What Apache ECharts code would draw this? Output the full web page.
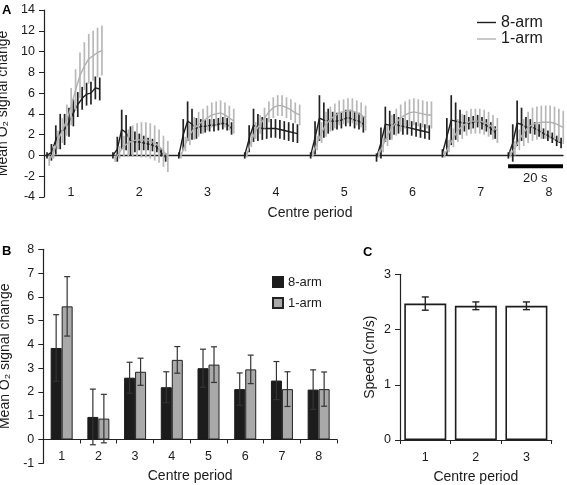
<!DOCTYPE html>
<html><head><meta charset="utf-8">
<script src="https://cdn.jsdelivr.net/npm/echarts@6/dist/echarts.min.js"></script>
<style>html,body{margin:0;padding:0;background:#fff}#c{width:567px;height:485px}</style>
</head><body><div id="c"></div>
<script>
// ---------- Panel A: time courses (13 samples per centre period) ----------
const periods = ['1','2','3','4','5','6','7','8'];
const yTicksA = [-4, 14, 2];           // min, max, interval
const arm8Mean = [
 [0, 0.3, 1.5, 2.3, 2.5, 3.2, 4.1, 4.9, 5.5, 5.9, 6.0, 6.5, 6.4],
 [0, 0.6, 2.5, 2.2, 1.4, 1.3, 1.3, 1.2, 1.1, 1.0, 0.8, 0.3, -0.2],
 [0, 2.0, 3.3, 3.0, 2.6, 2.8, 2.8, 2.9, 2.9, 3.0, 3.1, 3.0, 2.6],
 [0, 1.6, 2.9, 2.7, 2.6, 2.6, 2.6, 2.6, 2.5, 2.4, 2.3, 2.2, 2.1],
 [0, 1.7, 3.6, 3.4, 3.3, 3.3, 3.3, 3.4, 3.6, 3.6, 3.4, 3.3, 3.0],
 [-0.2, 1.2, 3.0, 2.9, 3.0, 2.9, 2.8, 2.7, 2.6, 2.5, 2.4, 2.3, 2.2],
 [0.2, 1.8, 3.4, 3.3, 3.2, 3.1, 3.1, 3.2, 3.3, 3.1, 2.9, 2.6, 2.2],
 [0, 1.2, 3.1, 3.0, 2.7, 2.8, 2.6, 2.4, 2.1, 1.9, 1.7, 1.4, 1.2]
];
const arm8Err = [
 [0.3, 0.8, 1.4, 1.7, 1.5, 1.4, 1.3, 1.2, 1.1, 1.1, 1.1, 1.1, 1.1],
 [0.3, 1.2, 1.9, 1.7, 1.4, 1.0, 0.8, 0.7, 0.6, 0.6, 0.5, 0.4, 0.4],
 [0.3, 1.5, 1.9, 1.5, 1.0, 0.7, 0.6, 0.6, 0.6, 0.6, 0.6, 0.6, 0.6],
 [0.3, 1.3, 1.6, 1.3, 1.1, 1.0, 0.9, 0.9, 0.9, 0.9, 0.9, 0.9, 0.9],
 [0.3, 1.6, 2.2, 1.7, 1.2, 0.9, 0.8, 0.8, 0.8, 0.8, 0.8, 0.8, 0.8],
 [0.4, 1.5, 1.7, 1.4, 1.0, 0.8, 0.8, 0.7, 0.7, 0.7, 0.7, 0.7, 0.7],
 [0.4, 1.8, 2.4, 1.8, 1.2, 0.8, 0.6, 0.6, 0.6, 0.6, 0.6, 0.6, 0.6],
 [0.3, 1.8, 2.2, 1.6, 1.0, 0.7, 0.6, 0.6, 0.5, 0.5, 0.5, 0.5, 0.5]
];
const arm1Mean = [
 [-0.5, 0.3, 1.5, 2.4, 3.4, 4.7, 6.3, 7.7, 8.6, 9.3, 9.6, 9.9, 10.1],
 [-0.3, 0.3, 0.9, 1.2, 1.4, 1.5, 1.5, 1.5, 1.4, 1.2, 0.9, 0.4, -0.1],
 [0, 1.1, 2.0, 2.6, 3.0, 3.3, 3.6, 3.9, 4.0, 4.1, 3.9, 3.6, 3.3],
 [0.1, 1.4, 2.4, 3.0, 3.6, 4.2, 4.6, 4.8, 4.8, 4.6, 4.4, 4.1, 3.9],
 [0.2, 1.2, 2.2, 3.0, 3.5, 3.8, 4.1, 4.2, 4.3, 4.3, 4.1, 3.9, 3.6],
 [0.1, 1.0, 1.9, 2.7, 3.2, 3.6, 3.9, 4.1, 4.2, 4.1, 4.0, 3.9, 3.9],
 [0.1, 0.9, 1.7, 2.4, 2.8, 3.1, 3.3, 3.3, 3.3, 3.2, 3.0, 2.7, 2.4],
 [0.1, 0.7, 1.5, 2.2, 2.7, 3.0, 3.1, 3.2, 3.2, 3.2, 3.1, 2.9, 2.7]
];
const arm1Err = [
 [0.5, 0.6, 0.9, 1.2, 1.5, 1.8, 2.0, 2.2, 2.3, 2.4, 2.4, 2.4, 2.4],
 [0.3, 0.6, 1.0, 1.3, 1.5, 1.6, 1.7, 1.7, 1.7, 1.7, 1.6, 1.5, 1.5],
 [0.3, 0.7, 1.0, 1.1, 1.2, 1.2, 1.2, 1.2, 1.2, 1.2, 1.2, 1.2, 1.2],
 [0.3, 0.6, 0.8, 0.9, 1.0, 1.0, 1.0, 1.0, 1.0, 1.0, 1.0, 1.0, 1.0],
 [0.3, 0.7, 1.0, 1.2, 1.2, 1.2, 1.2, 1.2, 1.2, 1.2, 1.2, 1.2, 1.2],
 [0.3, 0.7, 1.0, 1.2, 1.3, 1.3, 1.3, 1.3, 1.3, 1.3, 1.3, 1.3, 1.3],
 [0.3, 0.6, 0.9, 1.1, 1.2, 1.2, 1.2, 1.2, 1.2, 1.2, 1.2, 1.2, 1.2],
 [0.3, 0.7, 1.0, 1.3, 1.5, 1.6, 1.6, 1.6, 1.6, 1.6, 1.6, 1.6, 1.6]
];
const sampleStep = 1.6;     // s between samples
const greyShift = 0.8;      // s offset of 1-arm samples
const periodSpacing = 24;   // s between period starts on the time axis
const firstStart = 1.1;     // s
const timeMax = 189;        // s
const scaleBar = [169, 20, -1.05]; // start (s), length (s), y level

// ---------- Panel B ----------
const barMean8 = [3.85, 0.95, 2.6, 2.2, 3.0, 2.12, 2.48, 2.1];
const barErr8  = [1.4, 1.17, 0.65, 0.65, 0.8, 0.68, 0.8, 0.83];
const barMean1 = [5.6, 0.88, 2.85, 3.35, 3.15, 2.95, 2.12, 2.12];
const barErr1  = [1.25, 1.02, 0.57, 0.56, 0.75, 0.6, 0.73, 0.72];

// ---------- Panel C ----------
const speedCats = ['1','2','3'];
const speedMean = [2.47, 2.43, 2.43];
const speedErr  = [0.12, 0.07, 0.07];

const FONT = 'Liberation Sans, Arial, Helvetica, sans-serif';
const TXT = '#1a1a1a';
const BLACK = '#1e1e1e', GREY = '#b0b0b0';

function errRender(offsetPx, color, capHalf, lw) {
  return function (params, api) {
    const x = api.value(0), m = api.value(1), e = api.value(2);
    const lo = api.coord([x, m - e]), hi = api.coord([x, m + e]);
    const cx = lo[0] + offsetPx;
    const ch = [{type:'line', shape:{x1:cx, y1:lo[1], x2:cx, y2:hi[1]}, style:{stroke:color, lineWidth:lw}}];
    if (capHalf > 0) {
      ch.push({type:'line', shape:{x1:cx-capHalf, y1:hi[1], x2:cx+capHalf, y2:hi[1]}, style:{stroke:color, lineWidth:lw}});
      ch.push({type:'line', shape:{x1:cx-capHalf, y1:lo[1], x2:cx+capHalf, y2:lo[1]}, style:{stroke:color, lineWidth:lw}});
    }
    return {type:'group', children: ch};
  };
}

const series = [];
// 8-arm first, 1-arm drawn over it
[[arm8Mean, arm8Err, 0, '8-arm', BLACK, '#222'], [arm1Mean, arm1Err, greyShift, '1-arm', GREY, '#b8b8b8']].forEach(([M, E, shift, name, col, ecol]) => {
  const errData = [];
  M.forEach((arr, p) => {
    const t0 = firstStart + p * periodSpacing + shift;
    series.push({
      type:'line', name: name, xAxisIndex:0, yAxisIndex:0, symbol:'none', silent:true,
      lineStyle:{color:col, width:1.4}, itemStyle:{color:col}, z: name === '8-arm' ? 2 : 4,
      data: arr.map((v, i) => [t0 + i * sampleStep, v])
    });
    arr.forEach((v, i) => errData.push([t0 + i * sampleStep, v, E[p][i]]));
  });
  series.push({
    type:'custom', name: name + ' err', xAxisIndex:0, yAxisIndex:0, silent:true,
    z: name === '8-arm' ? 2 : 4, clip:false,
    renderItem: errRender(0, ecol, 0, 1.7),
    encode:{x:0, y:1}, data: errData
  });
});
// scale bar
series.push({
  type:'line', name:'scale', xAxisIndex:0, yAxisIndex:0, symbol:'none', silent:true, clip:false,
  lineStyle:{color:'#000', width:4},
  data:[[scaleBar[0], scaleBar[2]], [scaleBar[0] + scaleBar[1], scaleBar[2]]]
});

// Panel B bars
const BW = 11;
series.push({type:'bar', name:'B8', xAxisIndex:2, yAxisIndex:2, barWidth:BW, barGap:'0%',
  itemStyle:{color:'#1c1c1c', borderColor:'#1c1c1c', borderWidth:1}, data: barMean8, silent:true});
series.push({type:'bar', name:'B1', xAxisIndex:2, yAxisIndex:2, barWidth:BW, barGap:'0%',
  itemStyle:{color:'#a9a9a9', borderColor:'#222', borderWidth:1}, data: barMean1, silent:true});
series.push({type:'custom', name:'B8e', xAxisIndex:2, yAxisIndex:2, silent:true, z:5, clip:false,
  renderItem: errRender(-BW/2, '#333', 3, 1.2), encode:{x:0, y:1},
  data: barMean8.map((v,i)=>[i, v, barErr8[i]])});
series.push({type:'custom', name:'B1e', xAxisIndex:2, yAxisIndex:2, silent:true, z:5, clip:false,
  renderItem: errRender(BW/2, '#333', 3, 1.2), encode:{x:0, y:1},
  data: barMean1.map((v,i)=>[i, v, barErr1[i]])});

// Panel C bars
series.push({type:'bar', name:'C', xAxisIndex:3, yAxisIndex:3, barWidth:42,
  itemStyle:{color:'#fff', borderColor:'#1c1c1c', borderWidth:1.6}, data: speedMean, silent:true});
series.push({type:'custom', name:'Ce', xAxisIndex:3, yAxisIndex:3, silent:true, z:5, clip:false,
  renderItem: errRender(0, '#222', 3.5, 1.4), encode:{x:0, y:1},
  data: speedMean.map((v,i)=>[i, v, speedErr[i]])});

const axisLbl = {color:TXT, fontFamily:FONT, fontSize:12.5};
const nameTS = {color:TXT, fontFamily:FONT, fontSize:14};
const G = {outerBoundsMode:'none', containLabel:false};

const option = {
  animation:false,
  backgroundColor:'#fff',
  textStyle:{fontFamily:FONT},
  grid:[
    Object.assign({left:44, right:4, top:10, height:187}, G),          // A
    Object.assign({left:71, width:478, top:10, height:173}, G),        // A period labels
    Object.assign({left:43.3, width:293.7, top:249.3, height:214}, G), // B
    Object.assign({left:400, width:151.7, top:274.3, height:165.7}, G),// C
    Object.assign({left:43.3, width:293.7, top:249.3, height:190.2}, G)// B zero-line axis
  ],
  xAxis:[
    {type:'value', gridIndex:0, min:0, max:timeMax, axisLine:{onZero:true, lineStyle:{color:'#222', width:1.4}},
     axisTick:{show:false}, axisLabel:{show:false}, splitLine:{show:false}},
    {type:'category', gridIndex:1, data:periods, boundaryGap:false, axisLine:{show:false}, axisTick:{show:false},
     axisLabel:Object.assign({margin:3, interval:0}, axisLbl), splitLine:{show:false},
     name:'Centre period', nameLocation:'middle', nameGap:23, nameTextStyle:nameTS},
    {type:'category', gridIndex:2, data:periods, show:false},
    {type:'category', gridIndex:3, data:speedCats, axisLine:{lineStyle:{color:'#222', width:1.2}},
     axisTick:{show:true, length:4, lineStyle:{color:'#222'}}, axisLabel:Object.assign({margin:11, interval:0}, axisLbl),
     name:'Centre period', nameLocation:'middle', nameGap:30, nameTextStyle:nameTS},
    {type:'category', gridIndex:4, data:periods, axisLine:{lineStyle:{color:'#222', width:1.2}},
     axisTick:{show:true, length:4, lineStyle:{color:'#222'}}, axisLabel:Object.assign({margin:11, interval:0}, axisLbl),
     name:'Centre period', nameLocation:'middle', nameGap:30, nameTextStyle:nameTS}
  ],
  yAxis:[
    {type:'value', gridIndex:0, min:yTicksA[0], max:yTicksA[1], interval:yTicksA[2],
     axisLine:{show:true, lineStyle:{color:'#222', width:1.2}}, axisTick:{show:true, length:5, lineStyle:{color:'#222'}},
     axisLabel:Object.assign({margin:9}, axisLbl), splitLine:{show:false},
     name:'Mean O\u2082 signal change', nameLocation:'middle', nameGap:25.5, nameTextStyle:nameTS},
    {type:'value', gridIndex:1, min:yTicksA[0], max:yTicksA[1], show:false, splitLine:{show:false}},
    {type:'value', gridIndex:2, min:-1, max:8, interval:1,
     axisLine:{show:true, lineStyle:{color:'#222', width:1.2}}, axisTick:{show:true, length:5, lineStyle:{color:'#222'}},
     axisLabel:Object.assign({margin:9}, axisLbl), splitLine:{show:false},
     name:'Mean O\u2082 signal change', nameLocation:'middle', nameGap:25.5, nameTextStyle:nameTS},
    {type:'value', gridIndex:3, min:0, max:3, interval:1,
     axisLine:{show:true, lineStyle:{color:'#222', width:1.2}}, axisTick:{show:true, length:5, lineStyle:{color:'#222'}},
     axisLabel:Object.assign({margin:9}, axisLbl), splitLine:{show:false},
     name:'Speed (cm/s)', nameLocation:'middle', nameGap:23, nameTextStyle:nameTS},
    {type:'value', gridIndex:4, min:0, max:8, show:false, splitLine:{show:false}}
  ],
  legend:[
    {data:['8-arm','1-arm'], left:472, top:9.5, orient:'vertical', itemWidth:19, itemHeight:10, itemGap:0.5,
     textStyle:{color:TXT, fontFamily:FONT, fontSize:16, lineHeight:16}, selectedMode:false, icon:'path://M0,0L19,0L19,1.4L0,1.4Z'},
    {data:['B8','B1'], left:267, top:270, orient:'vertical', itemWidth:10, itemHeight:10, itemGap:7, icon:'rect',
     formatter: n => n === 'B8' ? '8-arm' : '1-arm',
     textStyle:{color:TXT, fontFamily:FONT, fontSize:13, lineHeight:14}, selectedMode:false}
  ],
  graphic:[
    {type:'text', left:2, top:4, style:{text:'A', font:'bold 13px '+FONT, fill:'#000'}},
    {type:'text', left:2, top:245, style:{text:'B', font:'bold 13px '+FONT, fill:'#000'}},
    {type:'text', left:363, top:246, style:{text:'C', font:'bold 13px '+FONT, fill:'#000'}},
    {type:'text', left:523, top:172, style:{text:'20 s', font:'13px '+FONT, fill:TXT}}
  ],
  series: series
};
const chart = echarts.init(document.getElementById('c'), null, {renderer:'canvas'});
chart.setOption(option);
</script></body></html>
